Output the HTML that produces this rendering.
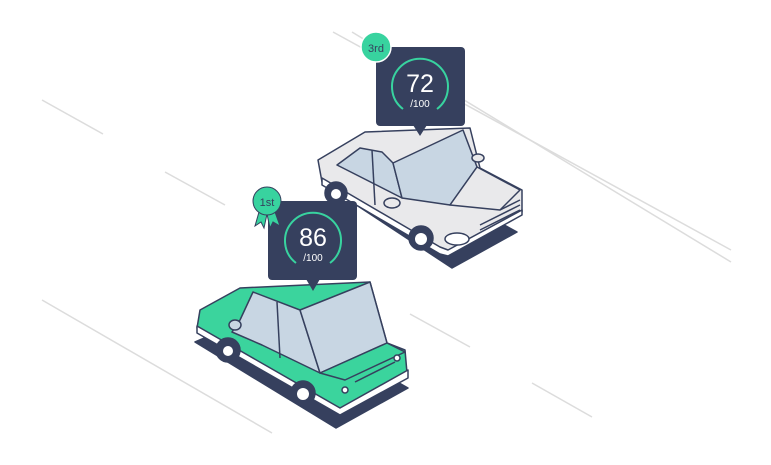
<!DOCTYPE html>
<html><head><style>html,body{margin:0;padding:0;background:#fff;}svg{display:block}</style></head>
<body>
<svg width="771" height="465" viewBox="0 0 771 465" xmlns="http://www.w3.org/2000/svg" font-family="Liberation Sans, sans-serif">
<g stroke="#dcdcdc" stroke-width="1.5">
<line x1="42" y1="100" x2="103" y2="134"/>
<line x1="165" y1="172" x2="225" y2="205"/>
<line x1="42" y1="300" x2="272" y2="433"/>
<line x1="410" y1="314" x2="470" y2="347"/>
<line x1="532" y1="383" x2="592" y2="417"/>
<line x1="333" y1="32" x2="731" y2="250"/>
<line x1="352" y1="32" x2="731" y2="262"/>
</g>
<!-- grey car -->
<g stroke="#36405e" stroke-width="1.5" stroke-linejoin="round">
<polygon points="326,185 452,268 517,232 400,168" fill="#36405e"/>
<polygon points="318,160 365,132 470,128 480,168 522,190 522,212 448,252 440,250 322,182" fill="#e9e9eb"/>
<polygon points="322,178 440,247 448,250 522,210 522,215 448,256 440,254 322,185" fill="#fff"/>
<polygon points="337,165 360,148 382,152 393,163 402,198" fill="#c8d6e3"/>
<line x1="372" y1="150" x2="375" y2="205"/>
<polygon points="393,163 463,130 477,167 450,205 402,198" fill="#c8d6e3"/>
<polygon points="450,205 477,167 520,190 500,210" fill="#e9e9eb"/>
<line x1="500" y1="210" x2="520" y2="200"/>
<line x1="480" y1="225" x2="520" y2="205"/>
<line x1="480" y1="230" x2="520" y2="210"/>
<ellipse cx="457" cy="239" rx="12" ry="6" fill="#fff"/>
<ellipse cx="392" cy="203" rx="8" ry="5" fill="#e9e9eb"/>
<ellipse cx="478" cy="158" rx="6" ry="4" fill="#e9e9eb"/>
<circle cx="336" cy="193" r="11" fill="#36405e"/>
<circle cx="421" cy="238" r="12" fill="#36405e"/>
</g>
<circle cx="336" cy="194" r="5" fill="#fff"/>
<circle cx="421" cy="239" r="6" fill="#fff"/>
<!-- grey badge -->
<rect x="376" y="47" width="89" height="79" rx="4" fill="#36405e"/>
<polygon points="413,125 427,125 420,136" fill="#36405e"/>
<path d="M403,109 A28,28 0 1 1 437,109" fill="none" stroke="#38d39f" stroke-width="2"/>
<text x="420" y="92" fill="#fff" font-size="25" text-anchor="middle">72</text>
<text x="420" y="107" fill="#fff" font-size="10" text-anchor="middle">/100</text>
<circle cx="376" cy="47" r="15" fill="#38d39f" stroke="#fff" stroke-width="1.5"/>
<text x="376" y="52" fill="#36405e" font-size="11" text-anchor="middle">3rd</text>
<!-- green car -->
<g stroke="#36405e" stroke-width="1.5" stroke-linejoin="round">
<polygon points="195,342 336,428 408,388 270,310" fill="#36405e"/>
<polygon points="200,310 240,288 370,282 387,343 405,350 407,373 340,410 197,328" fill="#3bd49d"/>
<polygon points="197,326 340,408 408,370 408,378 340,415 197,333" fill="#fff"/>
<polygon points="240,320 253,292 300,310 320,373 262,345 232,332" fill="#c8d6e3"/>
<line x1="277" y1="302" x2="280" y2="358"/>
<polygon points="300,310 370,282 387,343 320,373" fill="#c8d6e3"/>
<polygon points="320,373 387,343 405,352 345,380" fill="#3bd49d"/>
<line x1="355" y1="382" x2="395" y2="362"/>
<ellipse cx="235" cy="325" rx="6" ry="5" fill="#c8d6e3"/>
<circle cx="228" cy="350" r="12" fill="#36405e"/>
<circle cx="303" cy="393" r="12" fill="#36405e"/>
<circle cx="345" cy="390" r="3" fill="#fff"/>
<circle cx="397" cy="358" r="3" fill="#fff"/>
</g>
<circle cx="228" cy="351" r="5" fill="#fff"/>
<circle cx="303" cy="394" r="6" fill="#fff"/>
<!-- green badge -->
<rect x="268" y="201" width="89" height="79" rx="4" fill="#36405e"/>
<polygon points="306,279 320,279 313,291" fill="#36405e"/>
<path d="M296,263 A28,28 0 1 1 330,263" fill="none" stroke="#38d39f" stroke-width="2"/>
<text x="313" y="246" fill="#fff" font-size="25" text-anchor="middle">86</text>
<text x="313" y="261" fill="#fff" font-size="10" text-anchor="middle">/100</text>
<polygon points="259,212 255,226 261,222 264,228 267,214" fill="#38d39f" stroke="#36405e" stroke-width="1"/>
<polygon points="267,214 270,228 273,222 280,226 275,212" fill="#38d39f" stroke="#36405e" stroke-width="1"/>
<circle cx="267" cy="201" r="14" fill="#38d39f" stroke="#36405e" stroke-width="1"/>
<text x="267" y="206" fill="#36405e" font-size="11" text-anchor="middle">1st</text>
</svg>
</body></html>
